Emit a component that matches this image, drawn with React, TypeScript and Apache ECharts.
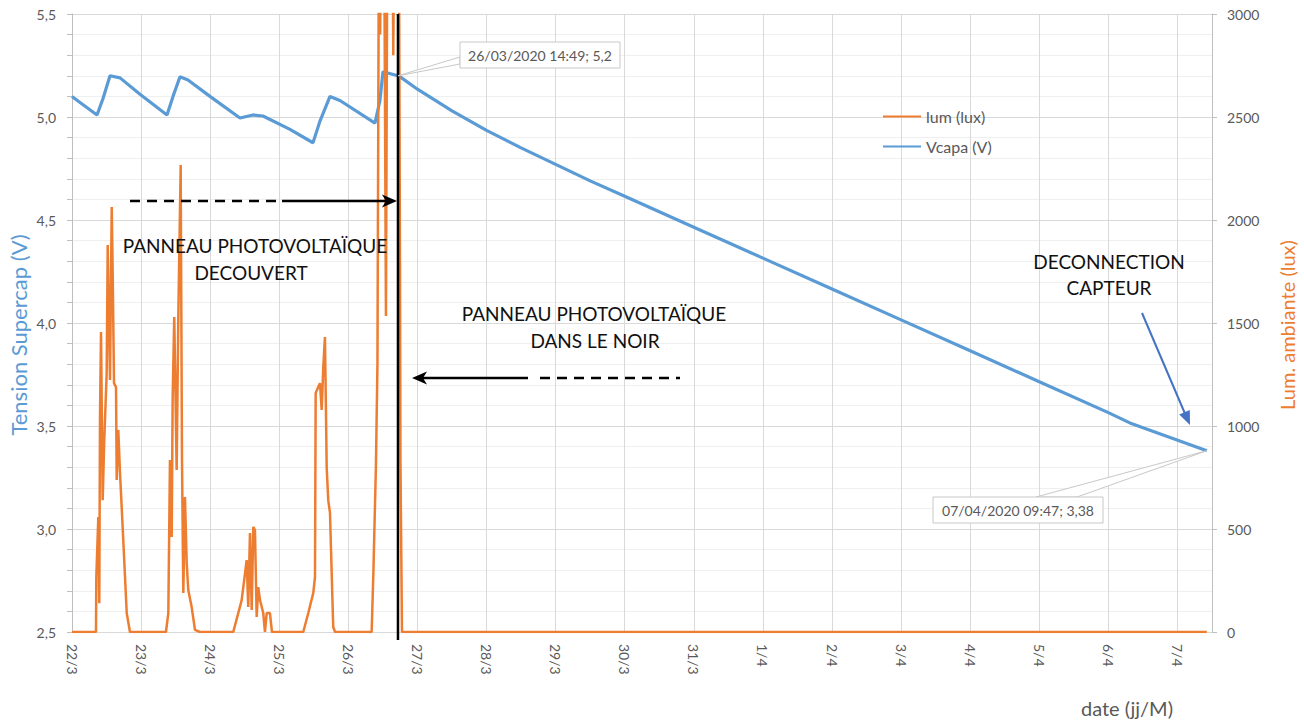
import React, { useEffect, useRef } from "react";
import * as echarts from "echarts";

// Time axis: t = days elapsed since 22/03/2020 00:00
const dayLabels = [
  "22/3", "23/3", "24/3", "25/3", "26/3", "27/3", "28/3", "29/3", "30/3",
  "31/3", "1/4", "2/4", "3/4", "4/4", "5/4", "6/4", "7/4",
];

// Vcapa (V) — supercap voltage
const vcapaT = [
  0, 0.116, 0.362, 0.449, 0.55, 0.695, 0.984, 1.375, 1.462, 1.563, 1.679, 1.997,
  2.431, 2.619, 2.764, 3.155, 3.488, 3.589, 3.734, 3.878, 4.385, 4.457, 4.501,
  4.718, 4.75, 5.0, 5.5, 6.0, 6.5, 7.0, 7.5, 8.0, 8.5, 9.0,
  10.0, 11.0, 12.0, 13.0, 14.0, 15.0, 15.311, 16.425,
];
const vcapaV = [
  5.1, 5.07, 5.01, 5.09, 5.2, 5.19, 5.11, 5.01, 5.1, 5.195, 5.18, 5.1,
  4.995, 5.01, 5.005, 4.94, 4.875, 4.98, 5.1, 5.08, 4.97, 5.08, 5.22,
  5.2, 5.195, 5.135, 5.03, 4.935, 4.85, 4.77, 4.69, 4.615, 4.54, 4.465,
  4.315, 4.165, 4.015, 3.865, 3.715, 3.565, 3.515, 3.38,
];

// lum (lux) — ambient light
const lumT = [
  0, 0.347, 0.352, 0.381, 0.395, 0.405, 0.42, 0.444, 0.467, 0.502, 0.517, 0.55,
  0.575, 0.589, 0.608, 0.637, 0.647, 0.67, 0.695, 0.742, 0.792, 0.839,
  1.36, 1.394, 1.418, 1.443, 1.457, 1.48, 1.515, 1.538, 1.573, 1.592, 1.611,
  1.635, 1.66, 1.683, 1.732, 1.78, 1.852,
  2.334, 2.456, 2.528, 2.551, 2.576, 2.601, 2.624, 2.648, 2.673, 2.696, 2.721,
  2.768, 2.793, 2.818, 2.865, 2.894,
  3.347, 3.42, 3.492, 3.517, 3.527, 3.564, 3.589, 3.614, 3.637, 3.661, 3.676,
  3.686, 3.709, 3.734, 3.781, 3.808,
  4.337, 4.363, 4.378, 4.399, 4.421, 4.443, 4.46, 4.48, 4.5, 4.52, 4.544, 4.566,
  4.59, 4.61, 4.631, 4.65, 4.67, 4.69, 4.71, 4.732, 4.747, 4.754, 4.776, 16.425,
];
const lumV = [
  0, 0, 267, 558, 140, 1029, 1456, 640, 932, 1257, 1878, 1223,
  2063, 1743, 1208, 1189, 738, 980, 772, 447, 92, 0,
  0, 92, 835, 461, 1141, 1529, 786, 1514, 2267, 835, 189,
  655, 335, 204, 121, 10, 0,
  0, 155, 349, 121, 480, 107, 510, 495, 73, 218, 155,
  92, 0, 92, 92, 0,
  0, 92, 189, 267, 1160, 1189, 1208, 1078, 1286, 1432, 1063,
  801, 640, 578, 24, 0,
  0, 300, 514, 806, 1300, 3500, 2900, 3600, 4000, 3300, 1534, 3600,
  4000, 3200, 3900, 2800, 3800, 3400, 3900, 3400, 1790, 825, 0, 0,
];

// annotated points
const noteStartT = 4.718;
const noteStartV = 5.2;
const noteStartText = "26/03/2020 14:49; 5,2";
const noteEndT = 16.425;
const noteEndV = 3.38;
const noteEndText = "07/04/2020 09:47; 3,38";

const BLUE = "#5b9bd5";
const ORANGE = "#ed7d31";
const GRAY = "#595959";
const FONT = "Lato, 'Open Sans', sans-serif";

export default function App() {
  const ref = useRef<HTMLDivElement>(null);

  useEffect(() => {
    if (!ref.current) return;
    const chart = echarts.init(ref.current, null, { renderer: "svg" });

    chart.setOption({
      animation: false,
      textStyle: { fontFamily: FONT },
      grid: { left: 72, right: 92, top: 14, bottom: 90, containLabel: false, outerBoundsMode: "none" },
      legend: {
        orient: "vertical",
        left: 878,
        top: 102,
        icon: "rect",
        itemWidth: 38,
        itemHeight: 2,
        itemGap: 11,
        data: ["lum (lux)", "Vcapa (V)"],
        textStyle: { color: GRAY, fontSize: 16, fontFamily: FONT, lineHeight: 19 },
      },
      xAxis: {
        type: "value",
        min: 0,
        max: 16.5,
        interval: 1,
        axisLine: { show: true, lineStyle: { color: "#d9d9d9" } },
        axisTick: { show: false },
        splitLine: { show: true, lineStyle: { color: "#d9d9d9", width: 1 } },
        axisLabel: {
          rotate: -90,
          margin: 12,
          color: GRAY,
          fontSize: 14,
          fontFamily: FONT,
          showMaxLabel: false,
          formatter: (v: number) => {
            const r = Math.round(v);
            return Math.abs(v - r) < 1e-6 && dayLabels[r] ? dayLabels[r] : "";
          },
        },
      },
      yAxis: [
        {
          type: "value",
          min: 2.5,
          max: 5.5,
          interval: 0.5,
          axisLine: { show: true, lineStyle: { color: "#bfbfbf" } },
          axisTick: { show: true, length: 5, lineStyle: { color: "#bfbfbf" } },
          minorTick: { show: true, splitNumber: 5, length: 5, lineStyle: { color: "#bfbfbf" } },
          splitLine: { show: true, lineStyle: { color: "#d9d9d9" } },
          minorSplitLine: { show: true, lineStyle: { color: "#efefef" } },
          axisLabel: {
            color: GRAY,
            fontSize: 14,
            fontFamily: FONT,
            margin: 16,
            formatter: (v: number) => v.toFixed(1).replace(".", ","),
          },
        },
        {
          type: "value",
          min: 0,
          max: 3000,
          interval: 500,
          position: "right",
          axisLine: { show: true, lineStyle: { color: "#bfbfbf" } },
          axisTick: { show: true, length: 5, lineStyle: { color: "#bfbfbf" } },
          splitLine: { show: false },
          axisLabel: {
            color: GRAY,
            fontSize: 14,
            fontFamily: FONT,
            margin: 15,
            formatter: (v: number) => String(v),
          },
        },
      ],
      series: [
        {
          name: "lum (lux)",
          type: "line",
          yAxisIndex: 1,
          symbol: "none",
          clip: true,
          z: 3,
          lineStyle: { color: ORANGE, width: 2.5 },
          itemStyle: { color: ORANGE },
          data: lumT.map((t, i) => [t, lumV[i]]),
        },
        {
          name: "Vcapa (V)",
          type: "line",
          yAxisIndex: 0,
          symbol: "none",
          z: 2,
          lineStyle: { color: BLUE, width: 3.2 },
          itemStyle: { color: BLUE },
          data: vcapaT.map((t, i) => [t, vcapaV[i]]),
        },
      ],
    });

    const pStart = chart.convertToPixel({ gridIndex: 0 }, [noteStartT, noteStartV]) as number[];
    const pEnd = chart.convertToPixel({ gridIndex: 0 }, [noteEndT, noteEndV]) as number[];
    const top = chart.convertToPixel({ gridIndex: 0 }, [noteStartT, 5.5]) as number[];
    const bottom = chart.convertToPixel({ gridIndex: 0 }, [noteStartT, 2.5]) as number[];
    const bx = pStart[0];

    const txt = (text: string, x: number, y: number, size: number, color = "#111", extra: any = {}) => ({
      type: "text",
      x,
      y,
      z: 20,
      ...extra,
      style: {
        text,
        fill: color,
        font: `${size}px ${FONT}`,
        align: "center",
        verticalAlign: "middle",
        textAlign: "center",
        textVerticalAlign: "middle",
      },
    });

    const bl = { stroke: "#000", lineWidth: 2.5 };

    chart.setOption({
      graphic: [
        // black separation line
        { type: "line", z: 15, shape: { x1: bx, y1: top[1], x2: bx, y2: bottom[1] + 8 }, style: { stroke: "#000", lineWidth: 2.5 } },
        // right-pointing arrow
        { type: "line", z: 15, shape: { x1: 130, y1: 201, x2: 277, y2: 201 }, style: { ...bl, lineDash: [10, 7] } },
        { type: "line", z: 15, shape: { x1: 282, y1: 201, x2: bx - 8, y2: 201 }, style: bl },
        { type: "polygon", z: 15, shape: { points: [[bx - 1, 201], [bx - 16, 194.5], [bx - 12, 201], [bx - 16, 207.5]] }, style: { fill: "#000" } },
        // left-pointing arrow
        { type: "line", z: 15, shape: { x1: 418, y1: 378, x2: 528, y2: 378 }, style: bl },
        { type: "line", z: 15, shape: { x1: 540, y1: 378, x2: 680, y2: 378 }, style: { ...bl, lineDash: [10, 7] } },
        { type: "polygon", z: 15, shape: { points: [[412, 378], [427, 371.5], [423, 378], [427, 384.5]] }, style: { fill: "#000" } },
        // blue arrow
        { type: "line", z: 15, shape: { x1: 1142, y1: 313, x2: 1186, y2: 416 }, style: { stroke: "#4472c4", lineWidth: 2 } },
        { type: "polygon", z: 15, shape: { points: [[1190, 425], [1189.8, 410], [1179.2, 414.5]] }, style: { fill: "#4472c4" } },
        // texts
        txt("PANNEAU PHOTOVOLTAÏQUE", 255, 245, 19),
        txt("DECOUVERT", 251, 272, 19),
        txt("PANNEAU PHOTOVOLTAÏQUE", 594, 313, 19),
        txt("DANS LE NOIR", 595, 340, 19),
        txt("DECONNECTION", 1109, 261, 19),
        txt("CAPTEUR", 1109, 287, 19),
        // callout 1
        { type: "polygon", z: 16, shape: { points: [[pStart[0], pStart[1]], [460, 57], [460, 64]] }, style: { fill: "#fff", stroke: "#c8c8c8", lineWidth: 1 } },
        { type: "rect", z: 17, shape: { x: 460, y: 42, width: 160, height: 26 }, style: { fill: "#fff", stroke: "#c8c8c8", lineWidth: 1 } },
        txt(noteStartText, 540, 55, 14, GRAY, { z: 18 }),
        // callout 2
        { type: "polygon", z: 16, shape: { points: [[pEnd[0], pEnd[1]], [1036, 497], [1077, 497]] }, style: { fill: "#fff", stroke: "#c8c8c8", lineWidth: 1 } },
        { type: "rect", z: 17, shape: { x: 933, y: 497, width: 170, height: 26 }, style: { fill: "#fff", stroke: "#c8c8c8", lineWidth: 1 } },
        txt(noteEndText, 1018, 510, 14, GRAY, { z: 18 }),
        // axis titles
        txt("Tension Supercap (V)", 18, 335, 22, BLUE, { rotation: Math.PI / 2 }),
        txt("Lum. ambiante (lux)", 1287, 325, 20, ORANGE, { rotation: Math.PI / 2 }),
        txt("date (jj/M)", 1127, 708, 20, GRAY),
      ],
    });

    return () => chart.dispose();
  }, []);

  return <div ref={ref} style={{ width: 1304, height: 722, position: "fixed", left: 0, top: 0, background: "#fff" }} />;
}
